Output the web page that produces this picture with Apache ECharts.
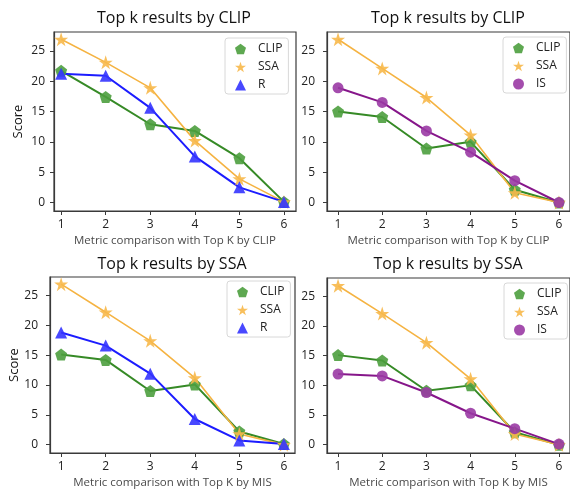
<!DOCTYPE html>
<html>
<head>
<meta charset="utf-8">
<script src="https://cdn.jsdelivr.net/npm/echarts@6/dist/echarts.min.js"></script>
<style>
    html, body { margin: 0; padding: 0; background: #fff; }
    #chart { width: 570px; height: 490px; }
</style>
</head>
<body>
<div id="chart"></div>
<script>
var kValues = [1, 2, 3, 4, 5, 6];
var yTicks = [0, 5, 10, 15, 20, 25];

// top left: by CLIP
var clipA = [21.7, 17.4, 12.9, 11.8, 7.3, 0.1];
var ssaA = [26.9, 23.1, 18.9, 10.2, 3.9, 0.1];
var rA = [21.2, 20.9, 15.6, 7.6, 2.5, 0.1];
// top right: by CLIP
var clipB = [15.0, 14.1, 8.9, 10.0, 2.1, 0.0];
var ssaB = [26.9, 22.1, 17.3, 11.1, 1.6, 0.0];
var isB = [18.9, 16.5, 11.8, 8.3, 3.6, 0.0];
// bottom left: by SSA
var clipC = [15.1, 14.2, 9.0, 10.1, 2.2, 0.1];
var ssaC = [26.9, 22.2, 17.4, 11.2, 1.8, 0.0];
var rC = [18.8, 16.6, 11.9, 4.3, 0.7, 0.1];
// bottom right: by SSA
var clipD = [15.1, 14.2, 9.1, 10.0, 2.1, 0.0];
var ssaD = [26.8, 22.1, 17.2, 11.1, 1.8, 0.0];
var isD = [11.9, 11.6, 8.8, 5.3, 2.7, 0.1];

var pentagon = 'path://M0,-10 L9.511,-3.09 L5.878,8.09 L-5.878,8.09 L-9.511,-3.09 Z';
var star = 'path://M0,-10 L2.245,-3.09 L9.511,-3.09 L3.633,1.18 L5.878,8.09 L0,3.82 L-5.878,8.09 L-3.633,1.18 L-9.511,-3.09 L-2.245,-3.09 Z';

var font = 'Open Sans';
var styles = {
    CLIP: {line: '#368a26', fill: '#4c9e3e', symbol: pentagon, size: 12, width: 2},
    SSA: {line: '#f5b342', fill: '#f7b84a', symbol: star, size: 14, width: 1.6},
    R: {line: '#1c1cff', fill: '#3434ff', symbol: 'triangle', size: 12, width: 2},
    IS: {line: '#86168a', fill: '#9a3aa4', symbol: 'circle', size: 11, width: 2}
};

function pairs(vals) {
    return kValues.map(function (k, i) { return [k, vals[i]]; });
}

function makeSeries(name, vals, idx) {
    var s = styles[name];
    return {
        name: name,
        type: 'line',
        xAxisIndex: idx,
        yAxisIndex: idx,
        data: pairs(vals),
        symbol: s.symbol,
        symbolSize: s.size,
        lineStyle: {color: s.line, width: s.width},
        itemStyle: {color: s.fill, opacity: 0.9, borderColor: s.fill, borderWidth: 0},
        emphasis: {disabled: true},
        animation: false
    };
}

var panels = [
    {title: 'Top k results by CLIP', xname: 'Metric comparison with Top K by CLIP', third: 'R',
        grid: {left: 54, top: 32, width: 242, height: 179}, xmin: 0.84, xmax: 6.27, score: true, lm: 9,
        vals: [clipA, ssaA, rA], tx: 174, ty: 10, legend: {left: 225, top: 38}},
    {title: 'Top k results by CLIP', xname: 'Metric comparison with Top K by CLIP', third: 'IS',
        grid: {left: 327, top: 32, width: 245, height: 179}, xmin: 0.75, xmax: 6.25, score: false, lm: 12,
        vals: [clipB, ssaB, isB], tx: 448, ty: 10, legend: {left: 503, top: 37}},
    {title: 'Top k results by SSA', xname: 'Metric comparison with Top K by MIS', third: 'R',
        grid: {left: 50, top: 277, width: 245, height: 179}, xmin: 0.75, xmax: 6.25, score: true, lm: 12,
        vals: [clipC, ssaC, rC], tx: 172, ty: 256, legend: {left: 227, top: 281}},
    {title: 'Top k results by SSA', xname: 'Metric comparison with Top K by MIS', third: 'IS',
        grid: {left: 327, top: 278, width: 245, height: 179}, xmin: 0.75, xmax: 6.25, score: false, lm: 12,
        vals: [clipD, ssaD, isD], tx: 448, ty: 256, legend: {left: 504, top: 283}}
];

var option = {
    backgroundColor: '#fff',
    textStyle: {fontFamily: font},
    title: [], grid: [], xAxis: [], yAxis: [], legend: [], series: []
};

panels.forEach(function (p, i) {
    option.title.push({
        text: p.title, left: p.tx, top: p.ty, textAlign: 'center', padding: 0,
        textStyle: {fontFamily: font, fontSize: 16, fontWeight: 'normal', color: '#111'}
    });
    option.grid.push({
        left: p.grid.left, top: p.grid.top, width: p.grid.width, height: p.grid.height,
        show: true, borderColor: '#3a3a3a', borderWidth: 1.2, backgroundColor: 'transparent'
    });
    option.xAxis.push({
        type: 'value', gridIndex: i, min: p.xmin, max: p.xmax,
        name: p.xname, nameLocation: 'middle', nameGap: 24,
        nameTextStyle: {fontFamily: font, fontSize: 11.5, color: '#4a4a4a'},
        axisLine: {show: true, onZero: false, lineStyle: {color: '#3a3a3a', width: 1.2}},
        axisTick: {show: true, length: 4, inside: false, customValues: kValues, lineStyle: {color: '#3a3a3a'}},
        axisLabel: {customValues: kValues, margin: 8, fontFamily: font, fontSize: 12, color: '#222'},
        splitLine: {show: false}
    });
    option.yAxis.push({
        type: 'value', gridIndex: i, min: -1.4, max: 28.1,
        name: p.score ? 'Score' : '', nameLocation: 'middle', nameGap: 29,
        nameTextStyle: {fontFamily: font, fontSize: 13, color: '#111'},
        axisLine: {show: true, onZero: false, lineStyle: {color: '#3a3a3a', width: 1.2}},
        axisTick: {show: true, length: 4, inside: false, customValues: yTicks, lineStyle: {color: '#3a3a3a'}},
        axisLabel: {customValues: yTicks, margin: p.lm, fontFamily: font, fontSize: 12, color: '#222'},
        splitLine: {show: false}
    });
    var names = ['CLIP', 'SSA', p.third];
    option.legend.push({
        orient: 'vertical', left: p.legend.left, top: p.legend.top,
        padding: [5, 6, 3, 10], itemGap: 6, itemWidth: 11, itemHeight: 11,
        borderColor: '#d8d8d8', borderWidth: 1, borderRadius: 3, backgroundColor: '#fff',
        textStyle: {fontFamily: font, fontSize: 12, color: '#222', padding: [0, 0, 0, 7]},
        selectedMode: false,
        data: names.map(function (n) {
            return {name: n, icon: styles[n].symbol, itemStyle: {color: styles[n].fill, opacity: 0.9}};
        })
    });
    names.forEach(function (n, j) {
        option.series.push(makeSeries(n, p.vals[j], i));
    });
});

var chart = echarts.init(document.getElementById('chart'));
chart.setOption(option);
window.addEventListener('resize', chart.resize);
</script>
</body>
</html>
